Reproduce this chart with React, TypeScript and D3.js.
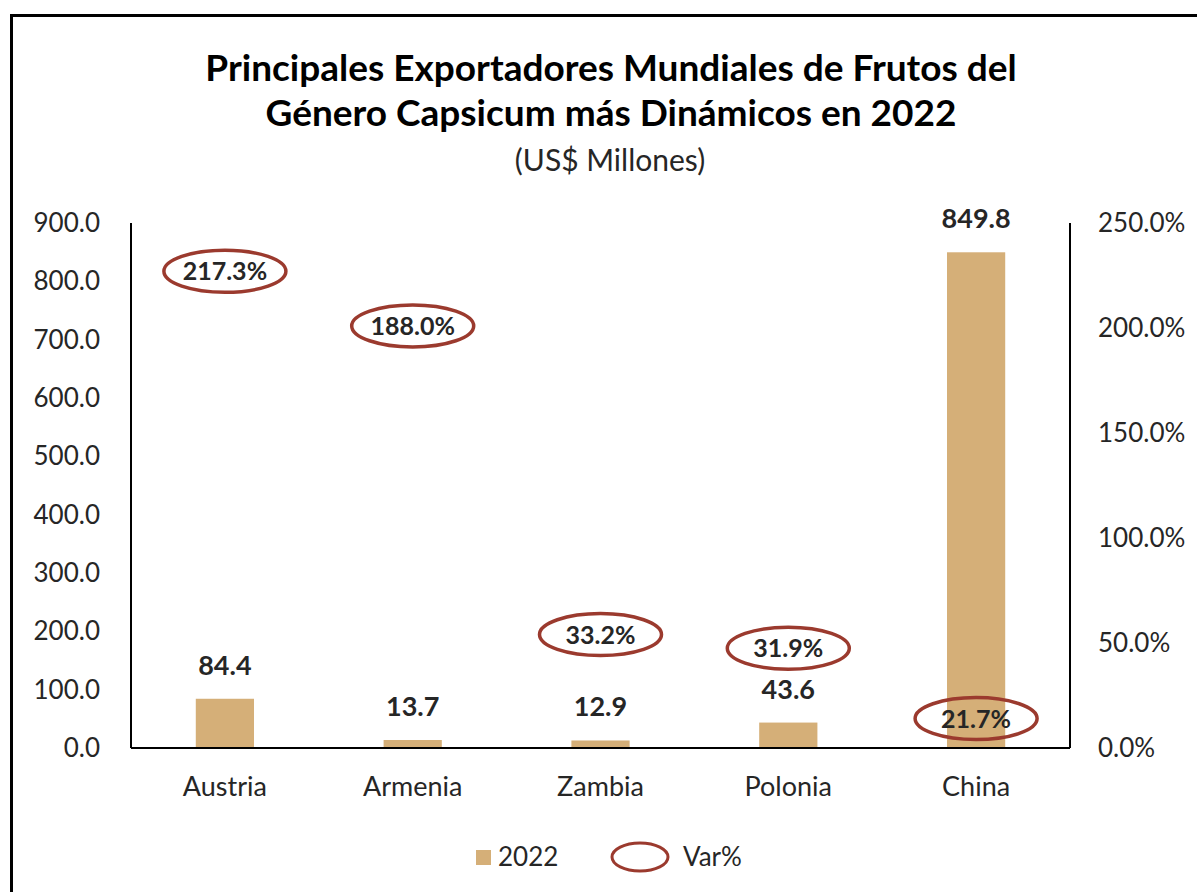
import React, { useEffect } from 'react';
import * as d3 from 'd3';

const countries = ['Austria', 'Armenia', 'Zambia', 'Polonia', 'China'];
const exports2022 = [84.4, 13.7, 12.9, 43.6, 849.8];
const varPct = [217.3, 188.0, 33.2, 31.9, 21.7];
// height at which each Var% marker sits in the picture (right axis)
const varMarkerAt = [227, 201, 54, 47.5, 14];
const leftTicks = [0, 100, 200, 300, 400, 500, 600, 700, 800, 900];
const rightTicks = [0, 50, 100, 150, 200, 250];

const W = 1197;
const H = 892;
const margin = { top: 223, right: 127, bottom: 144, left: 131 };
const FONT = 'Lato, "Open Sans", sans-serif';
const BAR = '#d5af78';
const RING = '#9b3a2e';
const TXT = '#262626';

const App = () => {
  useEffect(() => {
    document.body.style.margin = '0';
  }, []);

  const x = d3.scaleBand<string>()
    .domain(countries)
    .range([margin.left, W - margin.right]);

  const y = d3.scaleLinear()
    .domain([0, 900])
    .range([H - margin.bottom, margin.top]);

  const y2 = d3.scaleLinear()
    .domain([0, 250])
    .range([H - margin.bottom, margin.top]);

  const barW = x.bandwidth() * 0.31;
  const cx = (c: string) => (x(c) ?? 0) + x.bandwidth() / 2;
  const x0 = margin.left;
  const x1 = W - margin.right;
  const yb = y(0);

  return (
    <svg width={W} height={H} style={{ display: 'block' }} fontFamily={FONT}>
      <rect x={0} y={0} width={W} height={H} fill="#fff" />
      {/* outer frame, cut off by the picture on right and bottom */}
      <rect x={11.5} y={15.5} width={W + 50} height={H + 50} fill="none" stroke="#000" strokeWidth={3} />

      <text x={611} y={81} textAnchor="middle" fontSize={37} fontWeight={700} fill="#000">
        Principales Exportadores Mundiales de Frutos del
      </text>
      <text x={611} y={126} textAnchor="middle" fontSize={37} fontWeight={700} fill="#000">
        Género Capsicum más Dinámicos en 2022
      </text>
      <text x={610} y={171} textAnchor="middle" fontSize={30} fill={TXT}>
        (US$ Millones)
      </text>

      {/* bars */}
      {countries.map((c, i) => (
        <g key={c}>
          <rect x={cx(c) - barW / 2} y={y(exports2022[i])} width={barW}
            height={yb - y(exports2022[i])} fill={BAR} />
          <text x={cx(c)} y={y(exports2022[i]) - 24} textAnchor="middle"
            fontSize={27} fontWeight={700} fill={TXT}>
            {exports2022[i].toFixed(1)}
          </text>
        </g>
      ))}

      {/* axes */}
      <line x1={x0} x2={x0} y1={margin.top} y2={yb} stroke="#000" strokeWidth={2} />
      <line x1={x1} x2={x1} y1={margin.top} y2={yb} stroke="#000" strokeWidth={2} />
      <line x1={x0} x2={x1} y1={yb} y2={yb} stroke="#000" strokeWidth={2} />

      {leftTicks.map(t => (
        <text key={t} x={100} y={y(t)} dy="0.35em" textAnchor="end" fontSize={26} fill={TXT}>
          {d3.format('.1f')(t)}
        </text>
      ))}
      {rightTicks.map(t => (
        <text key={t} x={1098} y={y2(t)} dy="0.35em" textAnchor="start" fontSize={26} fill={TXT}>
          {d3.format('.1f')(t)}%
        </text>
      ))}
      {countries.map(c => (
        <text key={c} x={cx(c)} y={787} dy="0.35em" textAnchor="middle" fontSize={27} fill={TXT}>
          {c}
        </text>
      ))}

      {/* Var% markers */}
      {countries.map((c, i) => (
        <g key={c}>
          <ellipse cx={cx(c)} cy={y2(varMarkerAt[i])} rx={61} ry={21}
            fill="none" stroke={RING} strokeWidth={3.5} />
          <text x={cx(c)} y={y2(varMarkerAt[i])} dy="0.36em" textAnchor="middle"
            fontSize={25} fontWeight={700} fill={TXT}>
            {varPct[i].toFixed(1)}%
          </text>
        </g>
      ))}

      {/* legend */}
      <rect x={476} y={850} width={15} height={15} fill={BAR} />
      <text x={498} y={857} dy="0.36em" fontSize={26} fill={TXT}>2022</text>
      <ellipse cx={640} cy={857} rx={28} ry={14} fill="none" stroke={RING} strokeWidth={3} />
      <text x={683} y={857} dy="0.36em" fontSize={26} fill={TXT}>Var%</text>
    </svg>
  );
};

export default App;
